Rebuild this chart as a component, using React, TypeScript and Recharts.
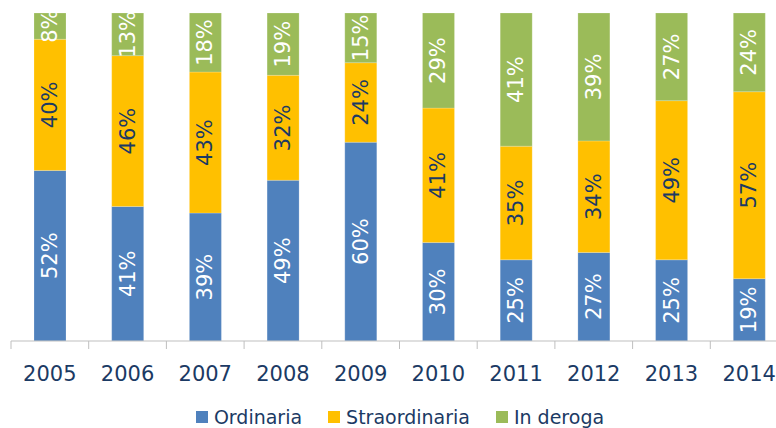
import React from "react";
import { BarChart, Bar, XAxis, YAxis, Legend, LabelList } from "recharts";

const years = ["2005", "2006", "2007", "2008", "2009", "2010", "2011", "2012", "2013", "2014"];
const ordinaria = [52, 41, 39, 49, 60, 30, 25, 27, 25, 19];
const straordinaria = [40, 46, 43, 32, 24, 41, 35, 34, 49, 57];
const inDeroga = [8, 13, 18, 19, 15, 29, 41, 39, 27, 24];

const data = years.map((year, i) => ({
  year,
  ordinaria: ordinaria[i],
  straordinaria: straordinaria[i],
  inDeroga: inDeroga[i],
}));

const FONT = "'DejaVu Sans', Verdana, sans-serif";
const NAVY = "#1B3A64";
const AXIS = "#BFBFBF";

const series = [
  { key: "ordinaria", name: "Ordinaria", color: "#4F81BD", text: "#FFFFFF" },
  { key: "straordinaria", name: "Straordinaria", color: "#FFC000", text: NAVY },
  { key: "inDeroga", name: "In deroga", color: "#9BBB59", text: "#FFFFFF" },
];

// rotated value label in the middle of each segment
const makeLabel = (fill: string) => (props: any) => {
  const { x, y, width, height, value } = props;
  const cx = Number(x) + Number(width) / 2;
  const cy = Number(y) + Number(height) / 2;
  return (
    <text
      x={cx}
      y={cy}
      fill={fill}
      fontSize={21}
      fontFamily={FONT}
      textAnchor="middle"
      dominantBaseline="central"
      transform={`rotate(-90 ${cx} ${cy})`}
    >
      {value}%
    </text>
  );
};

// year label plus tick marks on the category boundaries
const YearTick = (props: any) => {
  const { x, y, payload, index, visibleTicksCount } = props;
  const half = payload.offset || 0;
  const last = index === visibleTicksCount - 1;
  return (
    <g>
      <line x1={x - half} x2={x - half} y1={y} y2={y + 8} stroke={AXIS} />
      {last && <line x1={x + half} x2={x + half} y1={y} y2={y + 8} stroke={AXIS} />}
      <text x={x} y={y + 40} fill={NAVY} fontSize={21} fontFamily={FONT} textAnchor="middle">
        {payload.value}
      </text>
    </g>
  );
};

const LegendContent = () => (
  <div
    style={{
      display: "flex",
      justifyContent: "center",
      alignItems: "center",
      gap: 26,
      fontFamily: FONT,
      fontSize: 19,
      color: NAVY,
      paddingLeft: 24,
    }}
  >
    {series.map((s) => (
      <div key={s.key} style={{ display: "flex", alignItems: "center" }}>
        <span style={{ width: 12, height: 12, background: s.color, display: "inline-block", marginRight: 6 }} />
        <span>{s.name}</span>
      </div>
    ))}
  </div>
);

export default function App() {
  return (
    <div style={{ position: "absolute", left: 0, top: 0, width: 776, height: 428, overflow: "hidden", background: "#fff" }}>
      <BarChart
        width={800}
        height={428}
        data={data}
        stackOffset="expand"
        margin={{ top: 13, left: 11, right: 12, bottom: 27 }}
      >
        <XAxis
          dataKey="year"
          stroke={AXIS}
          tickLine={false}
          tickSize={0}
          tickMargin={0}
          height={60}
          tick={<YearTick />}
          interval={0}
        />
        <YAxis hide domain={[0, 1]} />
        <Legend
          layout="horizontal"
          verticalAlign="middle"
          align="center"
          wrapperStyle={{ top: 406, left: 0, width: 776 }}
          content={<LegendContent />}
        />
        {series.map((s) => (
          <Bar
            key={s.key}
            dataKey={s.key}
            name={s.name}
            stackId="a"
            fill={s.color}
            stroke="#ffffff"
            strokeOpacity={0.4}
            strokeWidth={0.5}
            barSize={32}
            isAnimationActive={false}
          >
            <LabelList dataKey={s.key} content={makeLabel(s.text)} />
          </Bar>
        ))}
      </BarChart>
    </div>
  );
}
